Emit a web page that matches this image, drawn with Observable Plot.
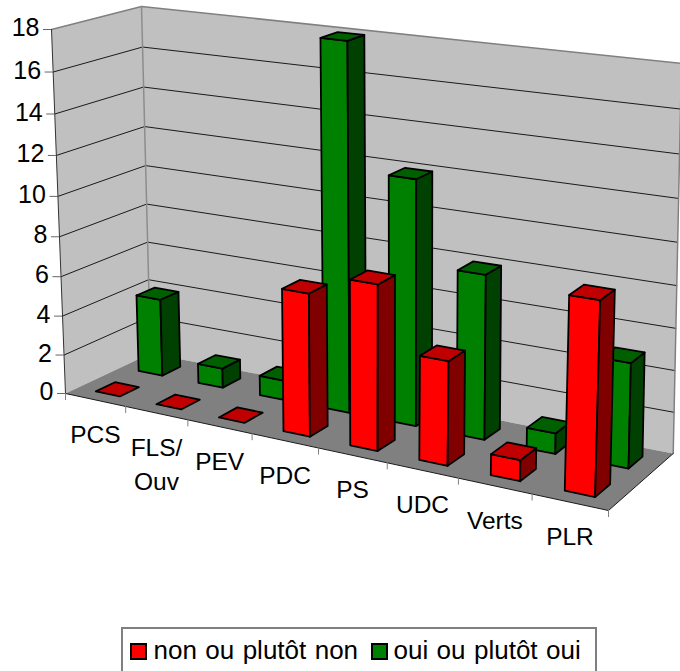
<!DOCTYPE html>
<html lang="fr">
<head>
<meta charset="utf-8">
<script src="https://cdn.jsdelivr.net/npm/d3@7"></script>
<script src="https://cdn.jsdelivr.net/npm/@observablehq/plot@0.6"></script>
<style>
html,body{margin:0;padding:0;background:#fff;overflow:hidden;width:680px;height:671px}
#chart svg{display:block}
#legend{position:absolute;left:121px;top:627px;width:476px;height:60px;box-sizing:border-box;border:2px solid #808080;background:#fff;font:26px "Liberation Sans",Arial,sans-serif;color:#000;white-space:nowrap;overflow:hidden}
#legend i{position:absolute;top:14px;width:13px;height:13px;border:2px solid #000}
#legend span{position:absolute;top:7px;line-height:28px;word-spacing:1.2px}
</style>
</head>
<body>
<div id="chart"></div>
<div id="legend"></div>
<script>
const categories = ["PCS", "FLS/\nOuv", "PEV", "PDC", "PS", "UDC", "Verts", "PLR"];
const seriesNon = [0, 0, 0, 7, 8, 5, 1, 9];
const seriesOui = [4, 1, 1, 18, 12, 8, 1, 5];
const yTicks = [0, 2, 4, 6, 8, 10, 12, 14, 16, 18];
const seriesNames = ["non ou plutôt non", "oui ou plutôt oui"];
const palette = {
  non: {front: "#ff0000", top: "#c00000", side: "#800000"},
  oui: {front: "#008000", top: "#006000", side: "#004000"}
};

// Camera of the 3D view: where the floor corners land on the page, and the
// page vector of the full-height edge rising from each of them.
const W = 680, H = 620, MAXV = 18;
const floorCorners = [[65, 393], [608, 510], [672.7, 453], [150, 353]];
const riseCorners = [[-14, -364], [12, -410], [8.3, -390], [-9, -347]];
const ODDS_U = 1.076, ODDS_H = 0.945, ODDS_EDGE = 0.873;
const warp = (k, r) => (k * r) / (1 - k + k * r);

function homography([p0, p1, p2, p3]) {
  const dx1 = p1[0]-p2[0], dx2 = p3[0]-p2[0], sx = p0[0]-p1[0]+p2[0]-p3[0];
  const dy1 = p1[1]-p2[1], dy2 = p3[1]-p2[1], sy = p0[1]-p1[1]+p2[1]-p3[1];
  const d = dx1*dy2-dx2*dy1;
  const g = (sx*dy2-dx2*sy)/d, h = (dx1*sy-sx*dy1)/d;
  const a = p1[0]-p0[0]+g*p1[0], b = p3[0]-p0[0]+h*p3[0], c = p0[0];
  const e = p1[1]-p0[1]+g*p1[1], f = p3[1]-p0[1]+h*p3[1], k = p0[1];
  return (s, t) => {
    const w = g*s+h*t+1;
    return [(a*s+b*t+c)/w, (e*s+f*t+k)/w];
  };
}
const floorH = homography(floorCorners);
const bilinear = ([a, d, c, b], s, t, i) =>
  (a[i]*(1-s)+d[i]*s)*(1-t) + (b[i]*(1-s)+c[i]*s)*t;
// u: category position (0..n), v: depth (0..1), h: value
function project(u, v, h) {
  const s0 = u/categories.length;
  const F = floorH(warp(s0, ODDS_U), v);
  const f = warp(s0, ODDS_EDGE), k = warp(h/MAXV, ODDS_H);
  return [F[0]+bilinear(riseCorners, f, v, 0)*k, F[1]+bilinear(riseCorners, f, v, 1)*k];
}

const faces = [];
let fid = 0;
function face(points, fill) {
  const id = fid++;
  for (const [u, v, h] of [...points, points[0]]) {
    const [x, y] = project(u, v, h);
    faces.push({id, x, y, fill});
  }
}
const U0 = 0.3, U1 = 0.7;
function bar(i, value, v0, v1, c) {
  const a = i+U0, b = i+U1;
  if (value > 0) {
    face([[a, v0, 0], [b, v0, 0], [b, v0, value], [a, v0, value]], c.front);
    face([[b, v0, 0], [b, v1, 0], [b, v1, value], [b, v0, value]], c.side);
  }
  face([[a, v0, value], [b, v0, value], [b, v1, value], [a, v1, value]], c.top);
}
seriesOui.forEach((d, i) => bar(i, d, 0.64, 0.86, palette.oui));
seriesNon.forEach((d, i) => bar(i, d, 0.14, 0.36, palette.non));

const n = categories.length;
const toXY = ([u, v, h]) => { const [x, y] = project(u, v, h); return {x, y}; };
const wallLeft = [[0,0,0],[0,1,0],[0,1,MAXV],[0,0,MAXV],[0,0,0]].map(toXY);
const wallBack = [[0,1,0],[n,1,0],[n,1,MAXV],[0,1,MAXV],[0,1,0]].map(toXY);
const floor = [[0,0,0],[n,0,0],[n,1,0],[0,1,0],[0,0,0]].map(toXY);
const grid = yTicks.filter(t => t > 0 && t < MAXV).flatMap(t =>
  [[0,0,t],[0,1,t],[n,1,t]].map(p => ({...toXY(p), t})));
const grid0 = [[n,0,0],[n,1,0]].map(toXY);
const rimTop = [[0,0,MAXV],[0,1,MAXV],[n,1,MAXV]].map(toXY);
const spine = [[0,1,0],[0,1,MAXV]].map(toXY);
const rimRight = [[n,1,0],[n,1,MAXV]].map(toXY);
const axisLine = [[0,0,0],[0,0,MAXV]].map(toXY);
const frontEdge = [[0,0,0],[n,0,0]].map(toXY);
const yAxisData = yTicks.map(t => ({t, ...toXY([0,0,t])}));
const xTickData = d3.range(n+1).map(i => toXY([i,0,0]));
const xLabelData = categories.map((label, i) => ({label, ...toXY([i+0.5,0,0])}));

const fontFamily = '"Liberation Sans",Arial,sans-serif';
const plot = Plot.plot({
  width: W, height: H,
  margin: 0,
  x: {domain: [0, W], range: [0, W], axis: null},
  y: {domain: [0, H], range: [0, H], axis: null},
  color: {type: "identity"},
  style: {background: "transparent", fontFamily},
  marks: [
    Plot.line(wallBack, {x: "x", y: "y", fill: "#c0c0c0", stroke: "none"}),
    Plot.line(wallLeft, {x: "x", y: "y", fill: "#c0c0c0", stroke: "none"}),
    Plot.line(floor, {x: "x", y: "y", fill: "#808080", stroke: "none"}),
    Plot.line(grid, {x: "x", y: "y", z: "t", stroke: "#1a1a1a", strokeWidth: 1}),
    Plot.line(rimTop, {x: "x", y: "y", stroke: "#808080", strokeWidth: 1.5}),
    Plot.line(spine, {x: "x", y: "y", stroke: "#8c8c8c", strokeWidth: 1.5}),
    Plot.line(rimRight, {x: "x", y: "y", stroke: "#808080", strokeWidth: 1.5}),
    Plot.line(axisLine, {x: "x", y: "y", stroke: "#333", strokeWidth: 1}),
    Plot.line(frontEdge, {x: "x", y: "y", stroke: "#1a1a1a", strokeWidth: 1}),
    Plot.line(grid0, {x: "x", y: "y", stroke: "#1a1a1a", strokeWidth: 1}),
    Plot.ruleY(yAxisData, {y: "y", x1: d => d.x-8, x2: "x", stroke: "#666", strokeWidth: 1}),
    Plot.ruleX(xTickData, {x: "x", y1: "y", y2: d => d.y+7, stroke: "#808080", strokeWidth: 1}),
    Plot.line(faces, {x: "x", y: "y", z: "id", fill: "fill", stroke: "#000", strokeWidth: 1.8, curve: "linear"}),
    Plot.text(yAxisData, {x: "x", y: "y", text: d => String(d.t), dx: -12, dy: -1.5, textAnchor: "end", fontSize: 25, fill: "#000"}),
    Plot.text(xLabelData, {x: "x", y: "y", text: "label", dy: 18.5, lineAnchor: "top", lineHeight: 1.4, fontSize: 24.5, fill: "#000"})
  ]
});
document.getElementById("chart").appendChild(plot);

const legend = document.getElementById("legend");
[[palette.non.front, seriesNames[0], 7, 30.5], [palette.oui.front, seriesNames[1], 248, 270.5]].forEach(([color, name, sx, tx]) => {
  const i = document.createElement("i");
  i.style.left = sx + "px"; i.style.background = color;
  const s = document.createElement("span");
  s.style.left = tx + "px"; s.textContent = name;
  legend.append(i, s);
});
</script>
</body>
</html>
